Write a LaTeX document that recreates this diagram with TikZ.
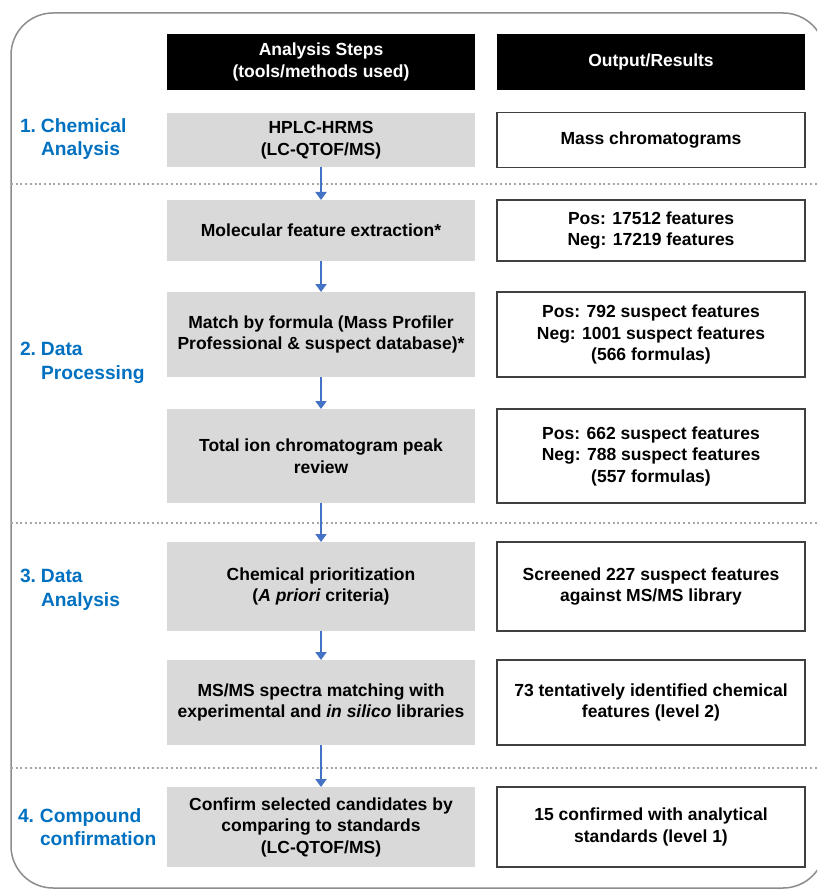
\documentclass[tikz,border=0pt]{standalone}
\usepackage{fontspec}
\setmainfont{Liberation Sans}
\usetikzlibrary{arrows.meta}
\definecolor{lblblue}{HTML}{0070C0}
\definecolor{arrblue}{HTML}{4472C4}
\definecolor{stepgray}{HTML}{D9D9D9}
\definecolor{framegray}{HTML}{8C8C8C}
\definecolor{boxline}{HTML}{404040}
\definecolor{dotgray}{HTML}{A6A6A6}
\begin{document}
\begin{tikzpicture}[x=1pt,y=-1pt,
  every node/.style={inner sep=0pt, outer sep=0pt, font=\fontsize{17.5}{21.5}\selectfont\bfseries, align=center},
  hdr/.style={fill=black, text=white, minimum width=308pt, minimum height=56pt},
  stepbox/.style={fill=stepgray, minimum width=308pt},
  resbox/.style={draw=boxline, line width=1.5pt, fill=white, minimum width=308pt},
  lbl/.style={text=lblblue, font=\fontsize{19.2}{23.5}\selectfont\bfseries, align=left, anchor=west},
  arr/.style={draw=arrblue, line width=2pt, -{Triangle[width=11pt,length=8pt]}},
  sep/.style={draw=dotgray, line width=2pt, dash pattern=on 2pt off 2.7pt},
]
\useasboundingbox (0,0) rectangle (817,890);
\begin{scope}
\clip (0,0) rectangle (817,890);
\draw[framegray, line width=1.5pt, rounded corners=42pt] (11,13) rectangle (825,888);
\end{scope}

% separators
\draw[sep] (11,184) -- (817,184);
\draw[sep] (11,523) -- (817,523);
\draw[sep] (11,768) -- (817,768);

% headers
\node[hdr] (h1) at (321,62) {Analysis Steps\\(tools/methods used)};
\node[hdr] (h2) at (651,62) {Output/Results};

% steps
\node[stepbox, minimum height=54pt] (s1) at (321,140) {HPLC-HRMS\\(LC-QTOF/MS)};
\node[stepbox, minimum height=61pt] (s2) at (321,230.5) {Molecular feature extraction*};
\node[stepbox, minimum height=85pt] (s3) at (321,334.5) {Match by formula (Mass Profiler\\Professional \& suspect database)*};
\node[stepbox, minimum height=94pt] (s4) at (321,456) {Total ion chromatogram peak\\review};
\node[stepbox, minimum height=89pt] (s5) at (321,586.5) {Chemical prioritization\\({\itshape A priori} criteria)};
\node[stepbox, minimum height=85pt] (s6) at (321,702.5) {MS/MS spectra matching with\\experimental and {\itshape in silico} libraries};
\node[stepbox, minimum height=80pt] (s7) at (321,827) {Confirm selected candidates by\\comparing to standards\\(LC-QTOF/MS)};

% results
\node[resbox, minimum height=55pt] (r1) at (651,140) {Mass chromatograms};
\node[resbox, minimum height=61pt] (r2) at (651,230.5) {Pos: 17512 features\\Neg: 17219 features};
\node[resbox, minimum height=85pt] (r3) at (651,334.5) {Pos: 792 suspect features\\Neg: 1001 suspect features\\(566 formulas)};
\node[resbox, minimum height=94pt] (r4) at (651,456) {Pos: 662 suspect features\\Neg: 788 suspect features\\(557 formulas)};
\node[resbox, minimum height=89pt] (r5) at (651,586.5) {Screened 227 suspect features\\against MS/MS library};
\node[resbox, minimum height=85pt] (r6) at (651,702.5) {73 tentatively identified chemical\\features (level 2)};
\node[resbox, minimum height=80pt] (r7) at (651,827) {15 confirmed with analytical\\standards (level 1)};

% arrows
\draw[arr] (s1.south) -- (s2.north);
\draw[arr] (s2.south) -- (s3.north);
\draw[arr] (s3.south) -- (s4.north);
\draw[arr] (s4.south) -- (s5.north);
\draw[arr] (s5.south) -- (s6.north);
\draw[arr] (s6.south) -- (s7.north);

% section labels
\node[lbl] (l1) at (20,139) {\makebox[21pt][l]{1.}Chemical\\\hspace*{21pt}Analysis};
\node[lbl] (l2) at (20,363) {\makebox[21pt][l]{2.}Data\\\hspace*{21pt}Processing};
\node[lbl] (l3) at (20,590) {\makebox[21pt][l]{3.}Data\\\hspace*{21pt}Analysis};
\node[lbl] (l4) at (18,827) {\makebox[22pt][l]{4.}Compound\\\hspace*{22pt}confirmation};
\end{tikzpicture}
\end{document}
